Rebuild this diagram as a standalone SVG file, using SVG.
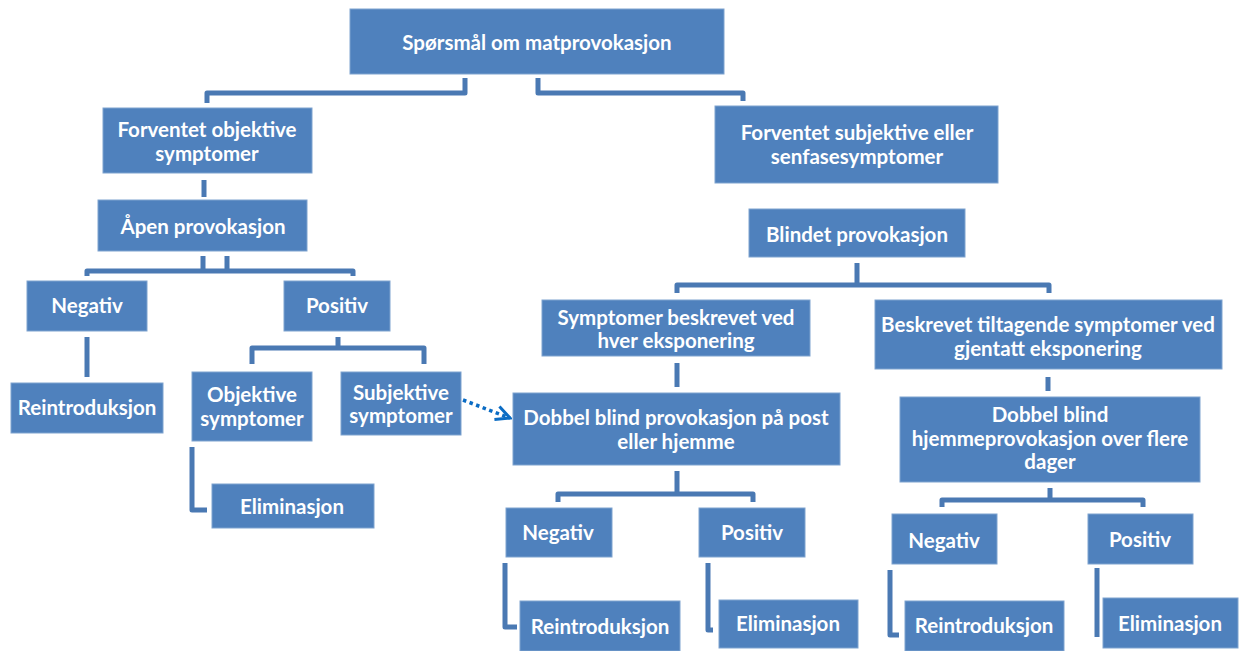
<svg xmlns="http://www.w3.org/2000/svg" width="1239" height="651" viewBox="0 0 1239 651">
<style>
.b{fill:#4F81BD;stroke:#7FA3CF;stroke-width:1}
.t{font-family:Lato,"Open Sans","Liberation Sans",sans-serif;font-weight:bold;font-size:20.5px;fill:#FFFFFF;text-anchor:middle;dominant-baseline:central}
.c{fill:none;stroke:#4A79B3;stroke-width:5;stroke-linejoin:round;stroke-linecap:butt}
.d{fill:none;stroke:#0B6CC4;stroke-width:3.5;stroke-dasharray:3.5 3.5}
</style>
<defs>
<marker id="arr" viewBox="0 0 18 18" refX="16" refY="9" markerWidth="18" markerHeight="18" markerUnits="userSpaceOnUse" orient="auto">
<path d="M2,2 L16,9 L2,16" fill="none" stroke="#0B6CC4" stroke-width="3"/>
</marker>
</defs>
<rect width="1239" height="651" fill="#FFFFFF"/>
<g id="connectors">
<path class="c" d="M465,78 V93 H207 V103"/>
<path class="c" d="M538,78 V93 H743 V101"/>
<path class="c" d="M204,180 V197"/>
<path class="c" d="M203,256 V271 M227,256 V271 M87,276 V271 H353 V276"/>
<path class="c" d="M87,337 V377"/>
<path class="c" d="M338,337 V348 M252,364 V348 H424 V364"/>
<path class="c" d="M192,447 V510 H207"/>
<path class="c" d="M857,263 V285 M677,293 V285 H1049 V293"/>
<path class="c" d="M677,363 V387"/>
<path class="c" d="M1048,377 V391"/>
<path class="c" d="M677,471 V494 M558,502 V494 H753 V502"/>
<path class="c" d="M1050,488 V500 M942,507 V500 H1143 V507"/>
<path class="c" d="M505,563 V627 H517"/>
<path class="c" d="M708,563 V630 H713"/>
<path class="c" d="M890,570 V635 H899"/>
<path class="c" d="M1097,568 V637"/>
<path class="d" d="M463,400 L510,418" marker-end="url(#arr)"/>
</g>
<g id="n1"><rect class="b" x="350" y="9" width="374" height="65"/><text class="t" x="537" y="42">Spørsmål om matprovokasjon</text></g>
<g id="n2"><rect class="b" x="103" y="108" width="209" height="65"/><text class="t" x="207" y="129">Forventet objektive</text><text class="t" x="207" y="153">symptomer</text></g>
<g id="n3"><rect class="b" x="715" y="106" width="283" height="77"/><text class="t" x="857" y="132">Forventet subjektive eller</text><text class="t" x="857" y="156">senfasesymptomer</text></g>
<g id="n4"><rect class="b" x="98" y="200" width="209" height="51"/><text class="t" x="203" y="226">Åpen provokasjon</text></g>
<g id="n5"><rect class="b" x="749" y="209" width="216" height="48"/><text class="t" x="857" y="234">Blindet provokasjon</text></g>
<g id="n6"><rect class="b" x="27" y="281" width="120" height="50"/><text class="t" x="87" y="305">Negativ</text></g>
<g id="n7"><rect class="b" x="284" y="281" width="106" height="50"/><text class="t" x="337" y="305">Positiv</text></g>
<g id="n8"><rect class="b" x="11" y="383" width="152" height="50"/><text class="t" x="87" y="407">Reintroduksjon</text></g>
<g id="n9"><rect class="b" x="192" y="372" width="120" height="69"/><text class="t" x="252" y="394">Objektive</text><text class="t" x="252" y="418">symptomer</text></g>
<g id="n10"><rect class="b" x="341" y="372" width="120" height="63"/><text class="t" x="401" y="392">Subjektive</text><text class="t" x="401" y="415">symptomer</text></g>
<g id="n11"><rect class="b" x="212" y="484" width="162" height="44"/><text class="t" x="292" y="506">Eliminasjon</text></g>
<g id="n12"><rect class="b" x="542" y="300" width="268" height="56"/><text class="t" x="676" y="317">Symptomer beskrevet ved</text><text class="t" x="676" y="340">hver eksponering</text></g>
<g id="n13"><rect class="b" x="875" y="300" width="347" height="69"/><text class="t" x="1048" y="324">Beskrevet tiltagende symptomer ved</text><text class="t" x="1048" y="348">gjentatt eksponering</text></g>
<g id="n14"><rect class="b" x="513" y="393" width="327" height="72"/><text class="t" x="676" y="417">Dobbel blind provokasjon på post</text><text class="t" x="676" y="441">eller hjemme</text></g>
<g id="n15"><rect class="b" x="900" y="397" width="300" height="85"/><text class="t" x="1050" y="414">Dobbel blind</text><text class="t" x="1050" y="438">hjemmeprovokasjon over flere</text><text class="t" x="1050" y="461">dager</text></g>
<g id="n16"><rect class="b" x="506" y="508" width="106" height="49"/><text class="t" x="558" y="532">Negativ</text></g>
<g id="n17"><rect class="b" x="699" y="508" width="106" height="49"/><text class="t" x="752" y="532">Positiv</text></g>
<g id="n18"><rect class="b" x="520" y="601" width="160" height="50"/><text class="t" x="600" y="626">Reintroduksjon</text></g>
<g id="n19"><rect class="b" x="719" y="600" width="139" height="48"/><text class="t" x="788" y="623">Eliminasjon</text></g>
<g id="n20"><rect class="b" x="892" y="514" width="105" height="50"/><text class="t" x="944" y="540">Negativ</text></g>
<g id="n21"><rect class="b" x="1088" y="514" width="105" height="50"/><text class="t" x="1140" y="539">Positiv</text></g>
<g id="n22"><rect class="b" x="905" y="601" width="159" height="50"/><text class="t" x="984" y="625">Reintroduksjon</text></g>
<g id="n23"><rect class="b" x="1103" y="598" width="135" height="50"/><text class="t" x="1170" y="623">Eliminasjon</text></g>
</svg>
